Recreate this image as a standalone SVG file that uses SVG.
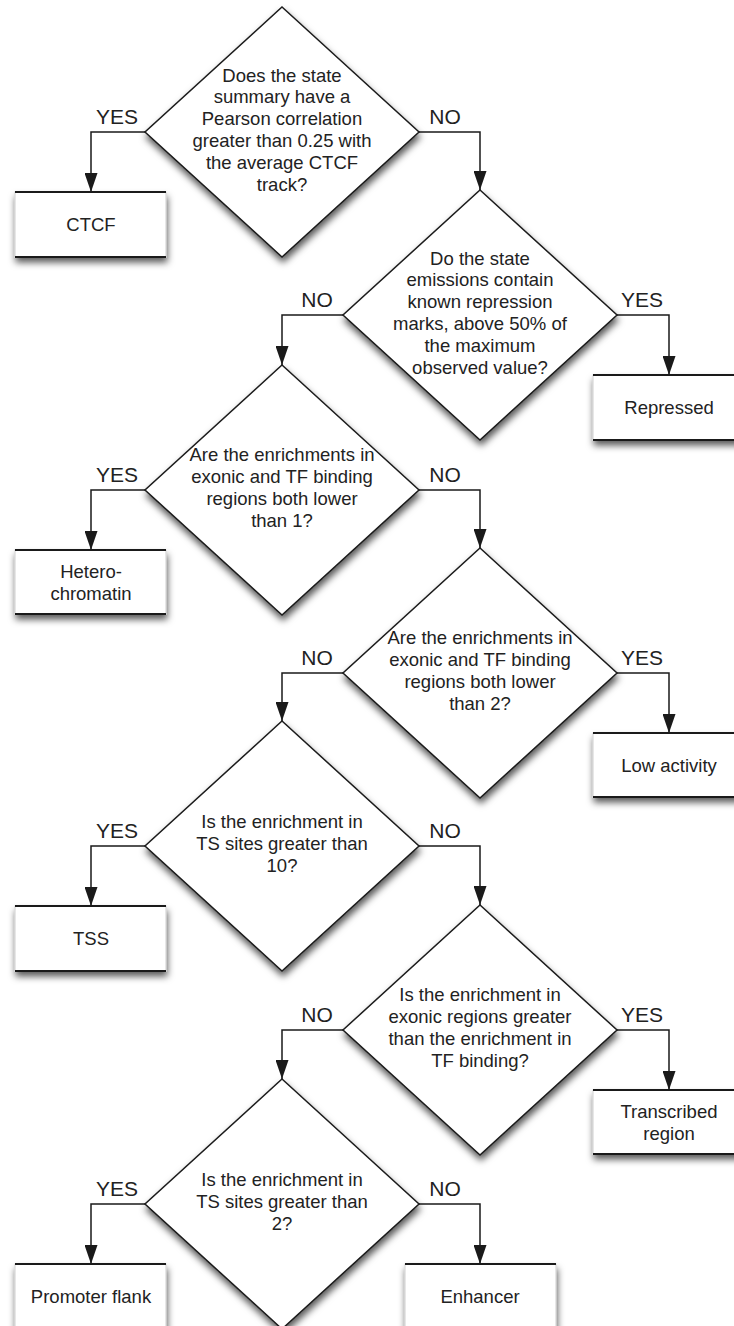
<svg xmlns="http://www.w3.org/2000/svg" width="734" height="1326" viewBox="0 0 734 1326">
<defs>
<filter id="sh" x="-20%" y="-20%" width="140%" height="150%">
<feDropShadow dx="1" dy="5" stdDeviation="3.5" flood-color="#000" flood-opacity="0.65"/>
</filter>
<marker id="ah" markerUnits="userSpaceOnUse" markerWidth="19" markerHeight="13" refX="19" refY="6.5" orient="auto" viewBox="0 0 19 13">
<path d="M0,0 L19,6.5 L0,13 z" fill="#1a1a1a"/>
</marker>
</defs>
<style>
.dia{fill:#fff;stroke:#1a1a1a;stroke-width:1.5;filter:url(#sh)}
.box{fill:#fff;stroke:#cfcfcf;stroke-width:1;filter:url(#sh)}
.edge{stroke:#1a1a1a;stroke-width:1.8}
.q{font-family:"Liberation Sans",Arial,sans-serif;font-size:18.5px;fill:#222;text-anchor:middle}
.lbl{font-family:"Liberation Sans",Arial,sans-serif;font-size:21px;fill:#222;text-anchor:middle}
.con{fill:none;stroke:#1a1a1a;stroke-width:1.5;marker-end:url(#ah)}
</style>
<rect width="734" height="1326" fill="#fff"/>

<g id="connectors">
<path class="con" d="M145,132 H91 V192"/>
<path class="con" d="M419,132 H480 V190"/>
<path class="con" d="M343,315 H282 V365"/>
<path class="con" d="M617,315 H669 V375"/>
<path class="con" d="M145,490 H91 V550"/>
<path class="con" d="M419,490 H480 V548"/>
<path class="con" d="M343,673 H282 V721"/>
<path class="con" d="M617,673 H669 V733"/>
<path class="con" d="M145,846 H91 V906"/>
<path class="con" d="M419,846 H480 V905"/>
<path class="con" d="M343,1030 H282 V1079"/>
<path class="con" d="M617,1030 H669 V1090"/>
<path class="con" d="M145,1204 H91 V1264"/>
<path class="con" d="M419,1204 H480 V1264"/>
<text class="lbl" x="117" y="124">YES</text>
<text class="lbl" x="445" y="124">NO</text>
<text class="lbl" x="317" y="307">NO</text>
<text class="lbl" x="642" y="307">YES</text>
<text class="lbl" x="117" y="482">YES</text>
<text class="lbl" x="445" y="482">NO</text>
<text class="lbl" x="317" y="665">NO</text>
<text class="lbl" x="642" y="665">YES</text>
<text class="lbl" x="117" y="838">YES</text>
<text class="lbl" x="445" y="838">NO</text>
<text class="lbl" x="317" y="1022">NO</text>
<text class="lbl" x="642" y="1022">YES</text>
<text class="lbl" x="117" y="1196">YES</text>
<text class="lbl" x="445" y="1196">NO</text>
</g>

<g id="d1">
<polygon class="dia" points="282,7 419,132 282,257 145,132"/>
<text class="q" x="282"><tspan x="282" y="81.5">Does the state</tspan><tspan x="282" y="103.3">summary have a</tspan><tspan x="282" y="125.1">Pearson correlation</tspan><tspan x="282" y="146.9">greater than 0.25 with</tspan><tspan x="282" y="168.7">the average CTCF</tspan><tspan x="282" y="190.5">track?</tspan></text>
</g>
<g id="d2">
<polygon class="dia" points="480,190 617,315 480,440 343,315"/>
<text class="q"><tspan x="480" y="264.5">Do the state</tspan><tspan x="480" y="286.3">emissions contain</tspan><tspan x="480" y="308.1">known repression</tspan><tspan x="480" y="329.9">marks, above 50% of</tspan><tspan x="480" y="351.7">the maximum</tspan><tspan x="480" y="373.5">observed value?</tspan></text>
</g>
<g id="d3">
<polygon class="dia" points="282,365 419,490 282,615 145,490"/>
<text class="q"><tspan x="282" y="461.3">Are the enrichments in</tspan><tspan x="282" y="483.1">exonic and TF binding</tspan><tspan x="282" y="504.9">regions both lower</tspan><tspan x="282" y="526.7">than 1?</tspan></text>
</g>
<g id="d4">
<polygon class="dia" points="480,548 617,673 480,798 343,673"/>
<text class="q"><tspan x="480" y="644.3">Are the enrichments in</tspan><tspan x="480" y="666.1">exonic and TF binding</tspan><tspan x="480" y="687.9">regions both lower</tspan><tspan x="480" y="709.7">than 2?</tspan></text>
</g>
<g id="d5">
<polygon class="dia" points="282,721 419,846 282,971 145,846"/>
<text class="q"><tspan x="282" y="828.2">Is the enrichment in</tspan><tspan x="282" y="850">TS sites greater than</tspan><tspan x="282" y="871.8">10?</tspan></text>
</g>
<g id="d6">
<polygon class="dia" points="480,905 617,1030 480,1155 343,1030"/>
<text class="q"><tspan x="480" y="1001.3">Is the enrichment in</tspan><tspan x="480" y="1023.1">exonic regions greater</tspan><tspan x="480" y="1044.9">than the enrichment in</tspan><tspan x="480" y="1066.7">TF binding?</tspan></text>
</g>
<g id="d7">
<polygon class="dia" points="282,1079 419,1204 282,1329 145,1204"/>
<text class="q"><tspan x="282" y="1186.2">Is the enrichment in</tspan><tspan x="282" y="1208">TS sites greater than</tspan><tspan x="282" y="1229.8">2?</tspan></text>
</g>

<g id="b-ctcf">
<rect class="box" x="15" y="192" width="151" height="65"/>
<path class="edge" d="M15,192 H166 M15,257 H166"/>
<text class="q" x="91" y="231">CTCF</text>
</g>
<g id="b-repressed">
<rect class="box" x="593" y="375" width="151" height="65"/>
<path class="edge" d="M593,375 H744 M593,440 H744"/>
<text class="q" x="669" y="414">Repressed</text>
</g>
<g id="b-hetero">
<rect class="box" x="15" y="550" width="151" height="64"/>
<path class="edge" d="M15,550 H166 M15,614 H166"/>
<text class="q"><tspan x="91" y="578">Hetero-</tspan><tspan x="91" y="600">chromatin</tspan></text>
</g>
<g id="b-low">
<rect class="box" x="593" y="733" width="151" height="64"/>
<path class="edge" d="M593,733 H744 M593,797 H744"/>
<text class="q" x="669" y="772">Low activity</text>
</g>
<g id="b-tss">
<rect class="box" x="15" y="906" width="151" height="65"/>
<path class="edge" d="M15,906 H166 M15,971 H166"/>
<text class="q" x="91" y="945">TSS</text>
</g>
<g id="b-transcribed">
<rect class="box" x="593" y="1090" width="151" height="64"/>
<path class="edge" d="M593,1090 H744 M593,1154 H744"/>
<text class="q"><tspan x="669" y="1118">Transcribed</tspan><tspan x="669" y="1140">region</tspan></text>
</g>
<g id="b-promoter">
<rect class="box" x="15" y="1264" width="151" height="70"/>
<path class="edge" d="M15,1264 H166"/>
<text class="q" x="91" y="1303">Promoter flank</text>
</g>
<g id="b-enhancer">
<rect class="box" x="405" y="1264" width="151" height="70"/>
<path class="edge" d="M405,1264 H556"/>
<text class="q" x="480" y="1303">Enhancer</text>
</g>
</svg>
